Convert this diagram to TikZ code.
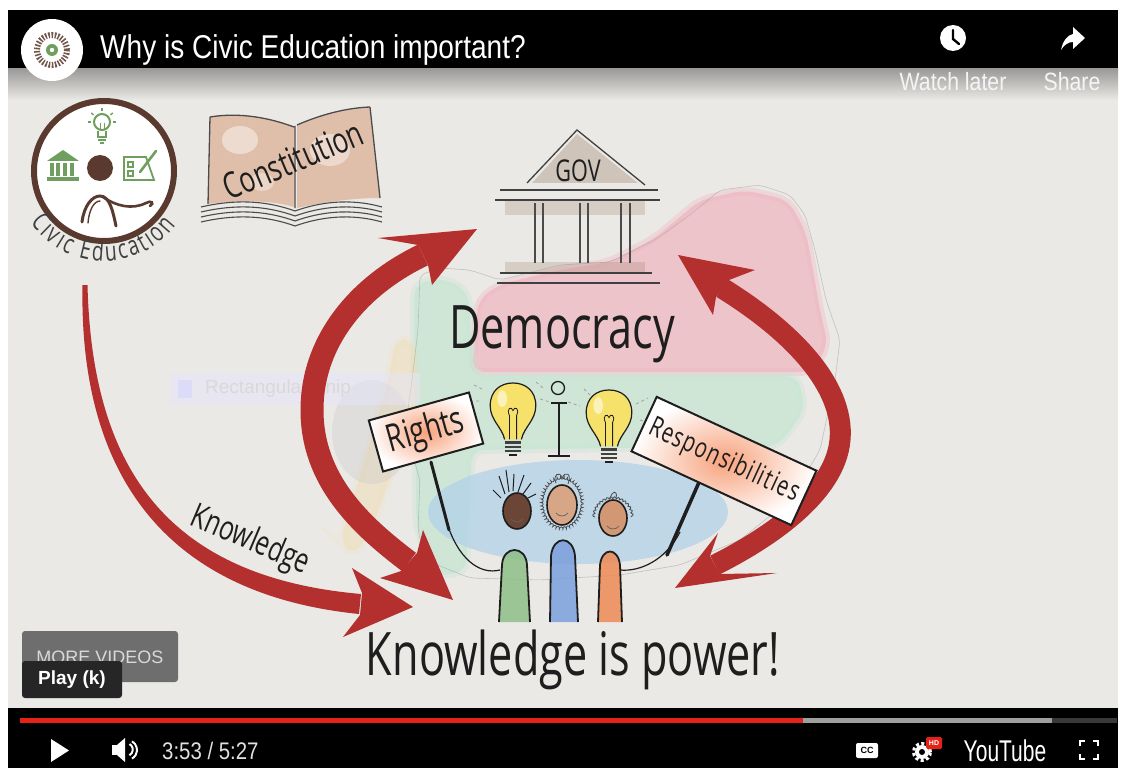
\documentclass[tikz,border=0pt]{standalone}
\usepackage{fontspec}
\usetikzlibrary{decorations.text,decorations.pathmorphing}
\newfontfamily\handfont[FakeStretch=0.72]{Open Sans}
\newfontfamily\handwide[FakeStretch=0.72, LetterSpace=4]{Open Sans}
\newfontfamily\uifont{Liberation Sans}
\newfontfamily\uinarrow[FakeStretch=0.85]{Liberation Sans}
\newfontfamily\ytfont[FakeStretch=0.7]{Liberation Sans}
\newcommand\fsz[1]{\fontsize{#1}{#1}\selectfont}
\definecolor{paper}{HTML}{EBE9E6}
\definecolor{arrowred}{HTML}{B3302F}
\definecolor{logobrown}{HTML}{5A3A2F}
\definecolor{logogreen}{HTML}{6E9F5E}
\definecolor{ink}{HTML}{1E1E1E}
\definecolor{pinkwash}{HTML}{F0B5C0}
\definecolor{greenwash}{HTML}{C4E6D2}
\definecolor{bluewash}{HTML}{B4D3E8}
\definecolor{sandwash}{HTML}{F0DDB5}
\definecolor{tanwash}{HTML}{D9A483}
\definecolor{signorange}{HTML}{F7A27C}
\definecolor{bulbyellow}{HTML}{F6E16A}
\definecolor{ytred}{HTML}{E62117}
\definecolor{bodygreen}{HTML}{8DBF86}
\definecolor{bodyblue}{HTML}{7B9FDD}
\definecolor{bodyorange}{HTML}{EE8A55}
\definecolor{skindark}{HTML}{6B4636}
\definecolor{skinmid}{HTML}{D6A686}
\definecolor{skinlight}{HTML}{D29874}
\tikzset{
  handtext/.style={font=\handfont, text=ink, inner sep=0pt},
  signbox/.style={draw=ink, line width=2pt, inner color=signorange, outer color=white,
    inner sep=0pt, font=\handfont, text=ink},
  redbody/.style={draw=arrowred, line cap=butt},
  redhead/.style={fill=arrowred},
  uitext/.style={text=white, inner sep=0pt},
  wash/.style={fill=#1, draw=#1, line width=8pt, draw opacity=.35, fill opacity=.7, rounded corners=12pt},
}
% a light bulb with its screw base, glass centre at (#1,#2)
\newcommand\drawbulb[2]{%
  \begin{scope}[shift={(#1,#2)}, scale=1.2]
    \fill[bulbyellow] (-7,22) .. controls (-9,12) and (-19,6) .. (-19,-6)
      .. controls (-19,-19) and (-10,-25) .. (0,-25) .. controls (10,-25) and (19,-19) .. (19,-6)
      .. controls (19,6) and (9,12) .. (7,22) -- cycle;
    \fill[white, opacity=.55] (-9,-12) ellipse [x radius=4pt, y radius=7pt];
    \draw[ink, line width=1.2pt] (-7,22) .. controls (-9,12) and (-19,6) .. (-19,-6)
      .. controls (-19,-19) and (-10,-25) .. (0,-25) .. controls (10,-25) and (19,-19) .. (19,-6)
      .. controls (19,6) and (9,12) .. (7,22);
    \draw[ink, line width=.8pt] (-3,22) -- (-3,2) (3,22) -- (3,2)
      (-3,2) .. controls (-6,-4) and (-1,-6) .. (0,-2) .. controls (1,-6) and (6,-4) .. (3,2);
    \foreach \yy in {24.5,28,31.5} \draw[ink!85, line width=2.2pt] (-7,\yy) -- (7,\yy);
    \draw[ink, line width=2pt] (-3,35) -- (3,35);
  \end{scope}}
\begin{document}
\begin{tikzpicture}[x=1pt,y=-1pt]
\useasboundingbox (0,0) rectangle (1125,773);
\fill[white] (0,0) rectangle (1125,773);
% paper of the video frame
\fill[paper] (8,68) rectangle (1118,708);
\shade[top color=black!35!paper, bottom color=paper] (8,68) rectangle (1118,100);

% ---------- map washes ----------
\path[wash=pinkwash] (472,372) -- (478,300) -- (500,284) -- (560,270)
  -- (610,262) -- (655,238) -- (700,200) -- (745,190) -- (788,200) -- (806,232) -- (813,270)
  -- (820,310) -- (828,345) -- (812,372) -- cycle;
\path[wash=greenwash] (414,284) -- (445,278) -- (468,292) -- (474,376)
  -- (798,376) -- (805,410) -- (778,446) -- (472,450) -- (466,572) -- (430,576) -- (416,520) -- cycle;
\fill[bluewash, opacity=.8] (578,512) ellipse [x radius=150pt, y radius=52pt];
\path[wash=sandwash, fill opacity=.55, draw opacity=.2] (396,338) -- (414,341) -- (418,400) -- (372,528)
  -- (354,556) -- (340,542) -- (362,470) -- (388,382) -- cycle;
\fill[gray!45, opacity=.3] (372,432) ellipse [x radius=40pt, y radius=52pt];
\draw[gray!70, line width=.6pt, opacity=.6, rounded corners=6pt] (420,275) -- (418,330) -- (412,380)
  -- (405,430) -- (420,480) -- (418,530) -- (425,560) -- (470,578) -- (540,580) -- (620,575)
  -- (680,565) -- (740,540) -- (790,500) -- (820,450) -- (835,380) -- (840,340) -- (826,300)
  -- (815,250) -- (805,215) -- (790,195) -- (760,185) -- (720,190) -- (690,215) -- (655,240)
  -- (610,262) -- (560,265) -- (500,280) -- (470,270) -- (440,268) -- cycle;

% faint screen tooltip
\fill[blue!10!white, opacity=.45] (170,373) rectangle (420,405);
\fill[blue!18!white, opacity=.5] (178,380) rectangle (192,398);
\node[anchor=west, font=\uifont\fsz{19}, text=gray!30, inner sep=0pt] (snip) at (205,389) {Rectangular Snip};

% ---------- Civic Education logo ----------
\draw[logobrown, line width=6pt, fill=white] (104,171) circle (70pt);
% bulb
\draw[logogreen, line width=2pt] (102,122) circle (8pt);
\draw[logogreen, line width=2pt] (98,131) -- (98,137) -- (106,137) -- (106,131);
\draw[logogreen, line width=1.6pt] (98,140) -- (106,140) (100,143) -- (104,143);
\draw[logogreen, line width=1pt] (100,130) -- (100,123) (104,130) -- (104,123);
\foreach \a in {0,40,90,140,180} \draw[logogreen, line width=1.4pt] (102,122) ++(\a:11pt) -- ++(\a:3pt);
% temple
\fill[logogreen] (47,161) -- (63,150) -- (79,161) -- cycle;
\fill[logogreen] (47,177) rectangle (79,181);
\foreach \xx in {50,56,63,70} \fill[logogreen] (\xx,163) rectangle ++(4,13);
% head and body
\fill[logobrown] (100,168) circle (13pt);
\draw[logobrown, line width=3pt, line cap=round] (82,222) .. controls (84,206) and (92,196) .. (100,196)
  .. controls (110,196) and (113,212) .. (116,226);
\draw[logobrown, line width=1.4pt, line cap=round] (88,223) .. controls (89,210) and (94,201) .. (100,201);
\draw[logobrown, line width=2.6pt, line cap=round] (103,197) .. controls (116,206) and (132,210) .. (146,203)
  .. controls (151,200) and (155,203) .. (150,206);
% ballot
\draw[logogreen, line width=1.8pt] (124,157) -- (146,157) -- (154,180) -- (124,180) -- cycle;
\draw[logogreen, line width=1.3pt] (128,162) rectangle (133,167) (128,171) rectangle (133,176);
\draw[logogreen, line width=2.6pt, line cap=round] (140,172) -- (156,151);
\path[decorate, decoration={text along path, text align=fit to path, text color=ink!85,
  text={|\handfont\fsz{27}|Civic Education}}] (104,171) ++(215:90pt) arc[start angle=215, end angle=323, radius=90pt];

% ---------- Constitution book ----------
\fill[tanwash, opacity=.6] (210,117) .. controls (240,112) and (270,118) .. (294,127) -- (294,207)
  .. controls (270,200) and (240,200) .. (208,204) -- cycle;
\fill[tanwash, opacity=.6] (297,125) .. controls (320,115) and (345,108) .. (370,107) -- (380,198)
  .. controls (350,198) and (320,203) .. (297,208) -- cycle;
\fill[white, opacity=.45] (240,140) ellipse [x radius=18pt, y radius=14pt];
\fill[white, opacity=.4] (330,150) ellipse [x radius=20pt, y radius=16pt];
\fill[white, opacity=.35] (262,182) ellipse [x radius=12pt, y radius=9pt];
\draw[ink!80, line width=1.3pt] (210,117) .. controls (240,112) and (270,118) .. (294,127)
  (297,125) .. controls (320,115) and (345,108) .. (370,107)
  (210,117) -- (208,204) (370,107) -- (380,198) (295,126) -- (295,208);
\foreach \d in {0,5,10,15} {
  \draw[ink!80, line width=1.1pt] (201,207+\d) .. controls (240,198+\d) and (270,202+\d) .. (295,211+\d);
  \draw[ink!80, line width=1.1pt] (295,211+\d) .. controls (320,202+\d) and (350,198+\d) .. (382,207+\d);
}
\node[handtext, rotate=23, font=\handfont\fsz{36}] (constitution) at (293,160) {Constitution};

% ---------- GOV building ----------
\fill[gray!60!brown, opacity=.35] (532,183) -- (577,134) -- (638,183) -- cycle;
\fill[gray!60!brown, opacity=.25] (505,200) rectangle (645,215);
\fill[gray!60!brown, opacity=.25] (505,262) rectangle (645,273);
\draw[ink!85, line width=1.3pt] (527,183) -- (577,130) -- (645,185);
\draw[ink!85, line width=2pt] (500,190) -- (658,190) (495,200) -- (660,200);
\foreach \xx in {535,543,580,588,621,630} \draw[ink!80, line width=1.6pt] (\xx,203) -- (\xx,263);
\draw[ink!85, line width=2pt] (500,273) -- (652,273) (497,283) -- (660,283);
\node[handtext, font=\handfont\fsz{30}] (gov) at (578,171) {GOV};

% ---------- red arrows ----------
% knowledge arrow, tapering from the logo
\fill[arrowred] (82.5,285) .. controls (79,472) and (163,594) .. (359,614)
  -- (361,594) .. controls (167,577) and (92,468) .. (87.5,285) -- cycle;
\fill[redhead] (413,607) -- (352,568) -- (362,593) -- (360,615) -- (343,637) -- cycle;
% left double arrow
\draw[redbody, line width=23pt] (423,255) .. controls (360,285) and (312,340) .. (312,410)
  .. controls (312,480) and (360,525) .. (409,562);
\fill[redhead] (477,229) -- (378,238) -- (418,245) -- (428,265) -- (432,285) -- cycle;
\fill[redhead] (453,600) -- (423,530) -- (417,553) -- (401,571) -- (380,578) -- cycle;
% right double arrow
\draw[redbody, line width=21pt] (722,288) .. controls (790,330) and (845,385) .. (840,440)
  .. controls (835,495) and (765,540) .. (715,565);
\fill[redhead] (678,255) -- (755,270) -- (729,280) -- (716,297) -- (713,315) -- cycle;
\fill[redhead] (675,588) -- (718,533) -- (710,556) -- (720,574) -- (777,573) -- cycle;

% ---------- Democracy ----------
\node[handtext, font=\handfont\fsz{60}] (democracy) at (562,334) {Democracy};

% bulbs and the info sign
\drawbulb{513}{413}
\drawbulb{609}{420}
\draw[ink, line width=1.3pt] (558,388) circle (6.5pt);
\draw[ink, line width=2pt] (559,404) -- (559,455) (551,403) -- (567,403) (548,456) -- (570,456);
\begin{scope}[gray!75, line width=.8pt, dash pattern=on 3pt off 3pt]
  \draw (470,401) -- (480,401) (474,385) -- (482,389) (540,399) -- (550,402) (568,402) -- (580,406);
  \draw (636,404) -- (648,398) (640,420) -- (650,423) (536,382) -- (543,388) (584,389) -- (590,395);
\end{scope}

% ---------- people ----------
\draw[ink, line width=1.8pt, fill=bodygreen, fill opacity=.85] (499,622) -- (502,565)
  .. controls (503,545) and (526,545) .. (527,565) -- (530,622);
\draw[ink, line width=1.8pt, fill=bodyblue, fill opacity=.85] (550,622) -- (551,556)
  .. controls (553,535) and (573,535) .. (575,556) -- (578,622);
\draw[ink, line width=1.8pt, fill=bodyorange, fill opacity=.85] (598,622) -- (600,565)
  .. controls (602,547) and (618,547) .. (620,565) -- (622,622);
% heads
\draw[ink, line width=1.6pt, fill=skindark] (517,511) ellipse [x radius=14pt, y radius=18pt];
\draw[gray!60!black, line width=.8pt, decorate, decoration={bumps, segment length=7pt, amplitude=2.2pt}]
  (562,503) ellipse [x radius=21pt, y radius=26pt];
\draw[ink, line width=1.6pt, fill=skinmid] (562,505) ellipse [x radius=15pt, y radius=20pt];
\draw[gray!60!black, line width=.8pt, decorate, decoration={bumps, segment length=7pt, amplitude=2.2pt}]
  (595,517) arc[start angle=180, end angle=0, radius=18pt];
\draw[ink, line width=1.6pt, fill=skinlight] (613,518) ellipse [x radius=14pt, y radius=18pt];
\draw[ink, line width=1pt] (505,494) -- (499,476) (509,492) -- (506,470) (513,491) -- (514,474)
  (518,492) -- (524,475) (523,494) -- (531,483) (501,498) -- (493,490) (528,498) -- (536,494);
\draw[gray!60!black, line width=.8pt] (556,483) .. controls (552,475) and (560,470) .. (562,478)
  .. controls (566,470) and (572,474) .. (568,484) (610,499) .. controls (612,490) and (618,490) .. (616,498);
\draw[ink!70, line width=.7pt] (511,519) .. controls (514,523) and (520,523) .. (523,519)
  (556,513) .. controls (559,517) and (565,517) .. (568,513) (607,526) .. controls (610,530) and (616,530) .. (619,526);
% sticks and arms
\draw[ink, line width=3pt, line cap=round] (431,462) -- (449,530);
\draw[ink, line width=1.2pt] (446,520) .. controls (458,560) and (480,575) .. (500,570);
\draw[ink, line width=3.5pt, line cap=round] (700,480) -- (667,555);
\draw[ink, line width=1.2pt] (680,532) .. controls (666,560) and (640,572) .. (620,570);

% ---------- signs ----------
\node[signbox, rotate=15.6, minimum width=104pt, minimum height=53pt, font=\handfont\fsz{38}] (rights) at (426,432) {Rights};
\node[signbox, rotate=-24.8, minimum width=176pt, minimum height=60pt, font=\handwide\fsz{28}] (resp) at (724,461) {Responsibilities};

% ---------- slogans ----------
\node[handtext, rotate=-23, font=\handfont\fsz{34}] (knowlbl) at (250,541) {Knowledge};
\node[handtext, font=\handfont\fsz{60}] (power) at (573,660) {Knowledge is power!};

% ---------- player chrome: top ----------
\fill[black] (8,10) rectangle (1118,68);
\fill[white] (52,50) circle (31pt);
\draw[logobrown!85, line width=6pt, dash pattern=on 1.6pt off 1.6pt] (52,50) circle (15pt);
\fill[logogreen] (52,50) circle (6pt);
\fill[white] (52,50) circle (2.2pt);
\node[uitext, anchor=west, font=\uinarrow\fsz{33}] (title) at (100,50) {Why is Civic Education important?};
\fill[white] (953,38) circle (13pt);
\draw[black, line width=2.4pt, line cap=round] (953,30) -- (953,39) -- (959,44);
\fill[white] (1061,50) .. controls (1063,40) and (1068,35) .. (1073,34) -- (1073,27) -- (1085,38)
  -- (1073,49) -- (1073,42) .. controls (1068,42) and (1064,45) .. (1061,50) -- cycle;
\node[uitext, text=white!92!gray, font=\uinarrow\fsz{25}] (later) at (953,82) {Watch later};
\node[uitext, text=white!92!gray, font=\uinarrow\fsz{25}] (share) at (1072,82) {Share};

% ---------- player chrome: bottom ----------
\fill[gray!70!black, opacity=.85, rounded corners=3pt] (22,631) rectangle (178,682);
\node[uitext, text=gray!30, font=\uifont\fsz{18}] (more) at (100,657) {MORE VIDEOS};
\fill[black!85, rounded corners=3pt] (22,661) rectangle (122,698);
\node[uitext, font=\uifont\bfseries\fsz{19}] (play) at (72,680) {Play (k)};

\fill[black] (8,708) rectangle (1118,768);
\fill[ytred] (20,718) rectangle (803,723);
\fill[gray!75] (803,718) rectangle (1052,723);
\fill[gray!45!black] (1052,718) rectangle (1117,723);
\fill[white] (51,739) -- (51,762) -- (69,750.5) -- cycle;
\fill[white] (112,745) rectangle (117,755);
\fill[white] (117,745) -- (125,738) -- (125,762) -- (117,755) -- cycle;
\draw[white, line width=2pt] (129.5,744) arc[start angle=60, end angle=-60, radius=6.5pt];
\draw[white, line width=2pt] (132,741.3) arc[start angle=60, end angle=-60, radius=10pt];
\node[uitext, anchor=west, text=white!88!black, font=\uinarrow\fsz{24}] (time) at (162,751) {3:53 / 5:27};
\fill[white, rounded corners=2pt] (856,743) rectangle (878,758);
\node[inner sep=0pt, font=\uifont\bfseries\fsz{9}] (cc) at (867,750.5) {CC};
\draw[white, line width=3pt, dash pattern=on 3pt off 2.5pt] (922,752) circle (8.5pt);
\fill[white] (922,752) circle (7pt);
\fill[black] (922,752) circle (3pt);
\fill[ytred, rounded corners=1.5pt] (926,737) rectangle (942,749);
\node[uitext, font=\uifont\bfseries\fsz{7}] (hd) at (934,743) {HD};
\node[uitext, font=\ytfont\fsz{30}] (yt) at (1005,751) {YouTube};
\draw[white, line width=2.5pt] (1080,746) -- (1080,741) -- (1085,741) (1093,741) -- (1098,741) -- (1098,746)
  (1080,754) -- (1080,759) -- (1085,759) (1093,759) -- (1098,759) -- (1098,754);
\end{tikzpicture}
\end{document}
